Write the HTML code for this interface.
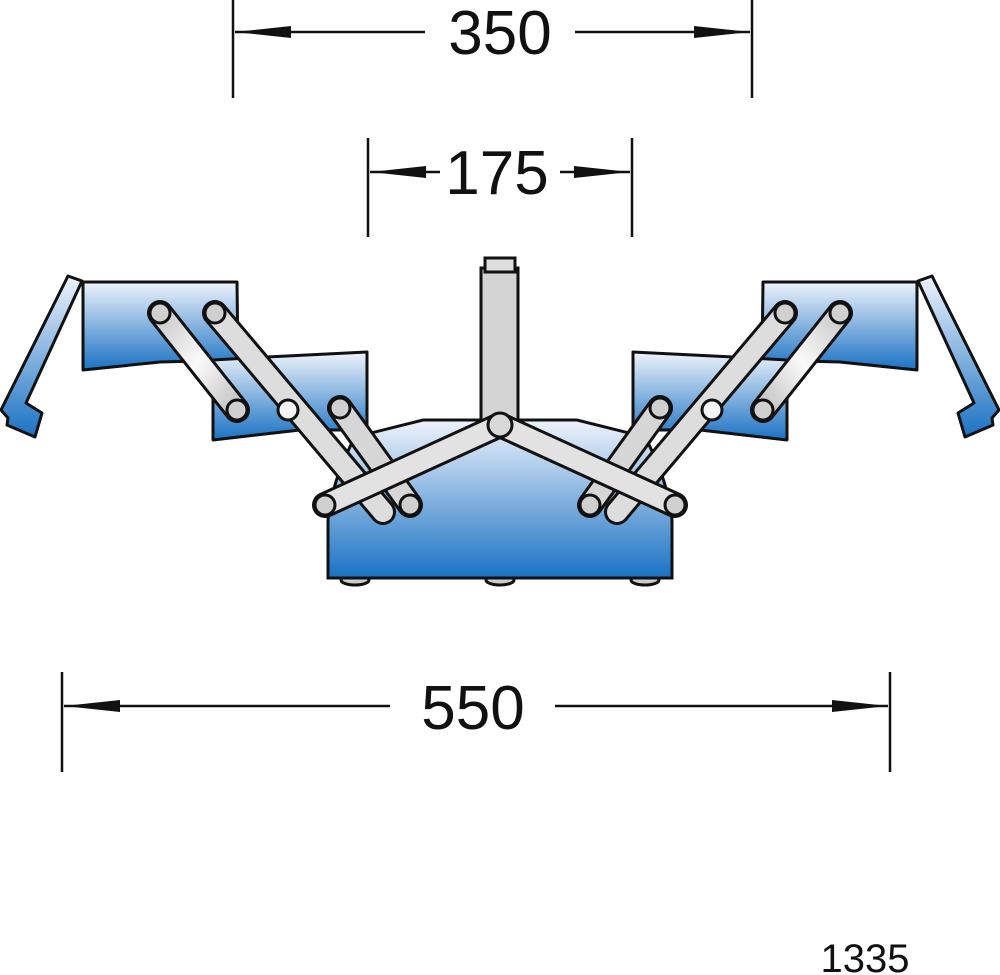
<!DOCTYPE html>
<html><head><style>body{margin:0;background:#fff}svg{display:block}</style></head><body>
<svg width="1000" height="975" viewBox="0 0 1000 975" xmlns="http://www.w3.org/2000/svg">
<defs>
<linearGradient id="b" x1="0" y1="0" x2="0" y2="1"><stop offset="0" stop-color="#eef3fb"/><stop offset="1" stop-color="#1a72c4"/></linearGradient>
<linearGradient id="g" x1="0" y1="0" x2="1" y2="1"><stop offset="0" stop-color="#c8c8c8"/><stop offset=".5" stop-color="#fafafa"/><stop offset="1" stop-color="#c0c0c0"/></linearGradient>
<marker id="a" markerUnits="userSpaceOnUse" markerWidth="58" markerHeight="16" refX="0" refY="8" orient="auto"><path d="M56,2 L0,8 L56,14 Z" fill="#111"/></marker>
<g id="half" stroke="#111" stroke-width="3" stroke-linejoin="round">
<polygon points="68,276 82,281 26,403 42,413 35,437 7,425 8,418 1,410" fill="url(#b)"/>
<polygon points="83,282 237,282 238,360 160,362 83,370" fill="url(#b)"/>
<polygon points="213,360 267,357 367,352 367,430 300,430 213,440" fill="url(#b)"/>
<g stroke-linecap="round">
<line x1="160" y1="313" x2="237" y2="410" stroke="#111" stroke-width="26"/>
<line x1="160" y1="313" x2="237" y2="410" stroke="url(#g)" stroke-width="20"/>
<line x1="215" y1="313" x2="383" y2="512" stroke="#111" stroke-width="26"/>
<line x1="215" y1="313" x2="383" y2="512" stroke="#ddd" stroke-width="20"/>
<line x1="340" y1="408" x2="410" y2="505" stroke="#111" stroke-width="26"/>
<line x1="340" y1="408" x2="410" y2="505" stroke="#d6d6d6" stroke-width="20"/>
<line x1="325" y1="505" x2="500" y2="425" stroke="#111" stroke-width="26"/>
<line x1="325" y1="505" x2="500" y2="425" stroke="#e2e2e2" stroke-width="20"/>
</g>
<g fill="#d0d0d0" stroke-width="3">
<circle cx="160" cy="313" r="10"/><circle cx="215" cy="313" r="10"/><circle cx="237" cy="410" r="10"/>
<circle cx="288" cy="410" r="10" fill="#f4f4f4"/><circle cx="340" cy="408" r="10"/><circle cx="325" cy="505" r="10"/><circle cx="410" cy="505" r="10"/>
</g>
</g>
</defs>
<g stroke="#111" stroke-width="3">
<ellipse cx="355" cy="580" rx="14" ry="5" fill="#ccc"/><ellipse cx="500" cy="580" rx="14" ry="5" fill="#ccc"/><ellipse cx="645" cy="580" rx="14" ry="5" fill="#ccc"/>
<path d="M328,578 L328,520 Q332,480 355,437 L423,420 L577,420 L645,437 Q668,480 672,520 L672,578 Z" fill="url(#b)"/>
<rect x="481" y="268" width="37" height="160" fill="#d4d4d4"/>
<rect x="485" y="258" width="30" height="14" fill="#ddd"/>
</g>
<use href="#half"/>
<use href="#half" transform="translate(1000,0) scale(-1,1)"/>
<circle cx="500" cy="425" r="12" fill="#d8d8d8" stroke="#111" stroke-width="3"/>
<g stroke="#111" stroke-width="2.5" fill="none">
<line x1="233" y1="0" x2="233" y2="98"/><line x1="752" y1="0" x2="752" y2="98"/>
<line x1="235" y1="32" x2="425" y2="32" marker-start="url(#a)"/><line x1="750" y1="32" x2="575" y2="32" marker-start="url(#a)"/>
<line x1="368" y1="138" x2="368" y2="237"/><line x1="632" y1="138" x2="632" y2="237"/>
<line x1="370" y1="172" x2="440" y2="172" marker-start="url(#a)"/><line x1="630" y1="172" x2="560" y2="172" marker-start="url(#a)"/>
<line x1="62" y1="672" x2="62" y2="772"/><line x1="890" y1="672" x2="890" y2="772"/>
<line x1="64" y1="706" x2="390" y2="706" marker-start="url(#a)"/><line x1="888" y1="706" x2="555" y2="706" marker-start="url(#a)"/>
</g>
<g font-family="Liberation Sans, sans-serif" fill="#111" text-anchor="middle">
<text x="500" y="54" font-size="62">350</text>
<text x="497" y="194" font-size="62">175</text>
<text x="473" y="729" font-size="62">550</text>
<text x="865" y="972" font-size="40">1335</text>
</g>
</svg>
</body></html>
